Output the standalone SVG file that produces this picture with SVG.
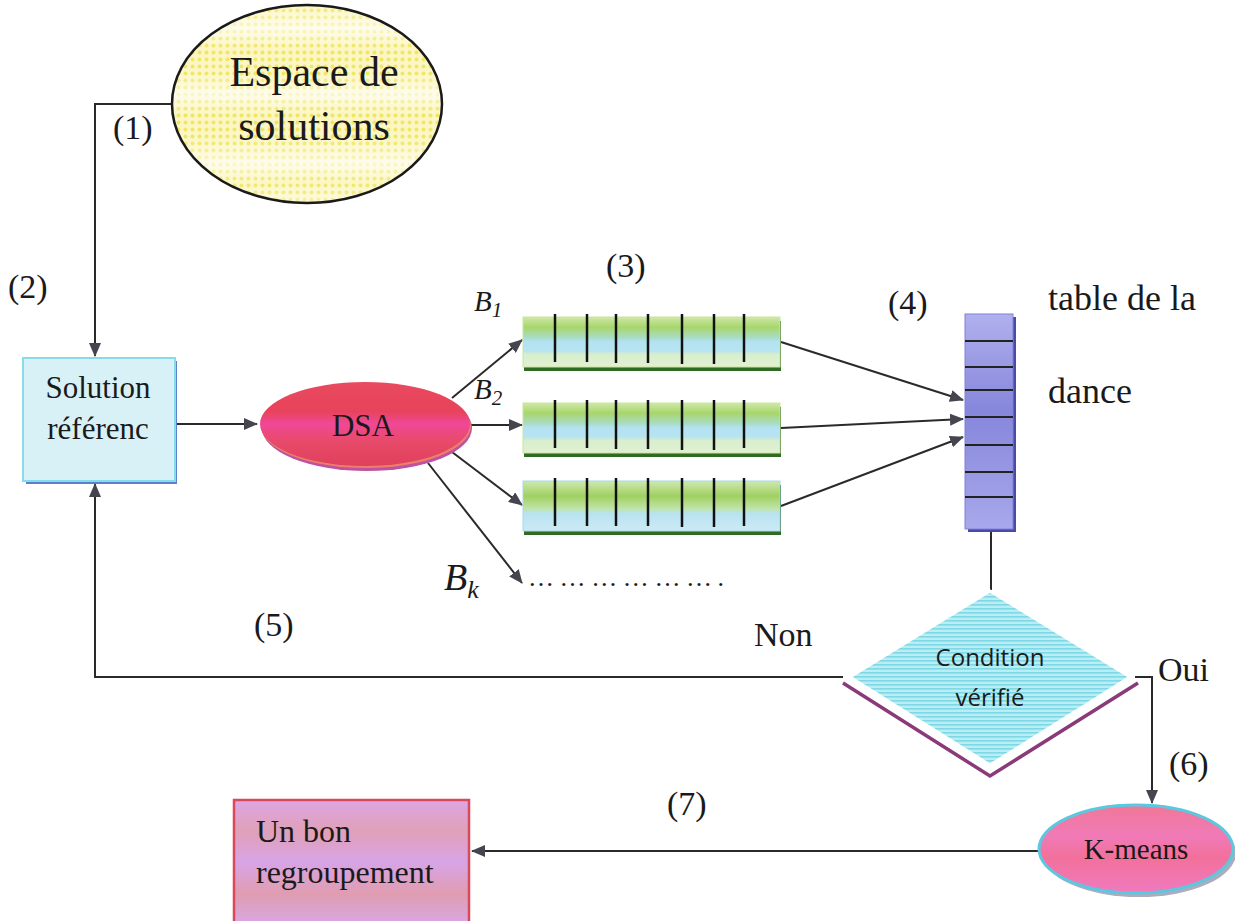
<svg xmlns="http://www.w3.org/2000/svg" width="1235" height="921" viewBox="0 0 1235 921" font-family="'Liberation Serif', 'Times New Roman', serif">
  <defs>
    <style>
      text { fill: #1a1a1a; }
      .wire { fill: none; stroke: #2a2a2a; stroke-width: 2; }
      .cell { stroke: #111; stroke-width: 2.5; }
      .row { stroke: #222; stroke-width: 2; }
    </style>
    <marker id="arr" viewBox="0 0 14 12" refX="13" refY="6" markerWidth="14" markerHeight="12" markerUnits="userSpaceOnUse" orient="auto">
      <path d="M0,0 L14,6 L0,12 Z" fill="#45454f"/>
    </marker>
    <!-- dotted yellow texture with pale bands -->
    <pattern id="dots" width="7" height="7" patternUnits="userSpaceOnUse">
      <rect width="7" height="7" fill="#fbf6c0"/>
      <circle cx="3.5" cy="3.5" r="2" fill="#f0e45a"/>
    </pattern>
    <linearGradient id="bands" x1="0" y1="0" x2="0" y2="1">
      <stop offset="0" stop-color="#fff" stop-opacity="0.1"/>
      <stop offset="0.12" stop-color="#fff" stop-opacity="0.7"/>
      <stop offset="0.22" stop-color="#fff" stop-opacity="0.05"/>
      <stop offset="0.35" stop-color="#fff" stop-opacity="0.1"/>
      <stop offset="0.45" stop-color="#fff" stop-opacity="0.7"/>
      <stop offset="0.55" stop-color="#fff" stop-opacity="0.05"/>
      <stop offset="0.68" stop-color="#fff" stop-opacity="0.1"/>
      <stop offset="0.8" stop-color="#fff" stop-opacity="0.7"/>
      <stop offset="0.9" stop-color="#fff" stop-opacity="0.1"/>
      <stop offset="1" stop-color="#fff" stop-opacity="0.5"/>
    </linearGradient>
    <linearGradient id="dsaFill" x1="0" y1="0" x2="0" y2="1">
      <stop offset="0" stop-color="#e84a60"/>
      <stop offset="0.35" stop-color="#e8435a"/>
      <stop offset="0.5" stop-color="#f04898"/>
      <stop offset="0.7" stop-color="#e84a6a"/>
      <stop offset="1" stop-color="#e0405a"/>
    </linearGradient>
    <linearGradient id="barFill" x1="0" y1="0" x2="0" y2="1">
      <stop offset="0" stop-color="#cfe8a8"/>
      <stop offset="0.2" stop-color="#a8d66a"/>
      <stop offset="0.4" stop-color="#a8dcc0"/>
      <stop offset="0.5" stop-color="#b4e2f4"/>
      <stop offset="0.68" stop-color="#b8e4f0"/>
      <stop offset="0.75" stop-color="#d8eecc"/>
      <stop offset="1" stop-color="#e2f0d4"/>
    </linearGradient>
    <linearGradient id="barFill3" x1="0" y1="0" x2="0" y2="1">
      <stop offset="0" stop-color="#cfe8b0"/>
      <stop offset="0.3" stop-color="#a0d060"/>
      <stop offset="0.55" stop-color="#c0e4a8"/>
      <stop offset="0.65" stop-color="#b8e2f2"/>
      <stop offset="1" stop-color="#cdeaf4"/>
    </linearGradient>
    <linearGradient id="tableFill" x1="0" y1="0" x2="0" y2="1">
      <stop offset="0" stop-color="#b0b0ee"/>
      <stop offset="0.45" stop-color="#8686dc"/>
      <stop offset="1" stop-color="#a8a8ec"/>
    </linearGradient>
    <linearGradient id="kFill" x1="0" y1="0" x2="0" y2="1">
      <stop offset="0" stop-color="#f07898"/>
      <stop offset="0.35" stop-color="#f07ab8"/>
      <stop offset="0.6" stop-color="#f2709a"/>
      <stop offset="1" stop-color="#f07ac0"/>
    </linearGradient>
    <linearGradient id="resFill" x1="0" y1="0" x2="0" y2="1">
      <stop offset="0" stop-color="#dda6e4"/>
      <stop offset="0.25" stop-color="#e0a0b8"/>
      <stop offset="0.5" stop-color="#d8a4e6"/>
      <stop offset="0.75" stop-color="#e09cb0"/>
      <stop offset="1" stop-color="#d8a8e6"/>
    </linearGradient>
    <pattern id="hatch" width="6" height="4" patternUnits="userSpaceOnUse">
      <rect width="6" height="4" fill="#b8eef4"/>
      <rect width="6" height="1.6" fill="#7ed8e6"/>
    </pattern>
  </defs>

  <rect width="1235" height="921" fill="#ffffff"/>

  <!-- connectors -->
  <g id="connectors">
    <polyline class="wire" points="172,104 95,104 95,356" marker-end="url(#arr)"/>
    <line class="wire" x1="175" y1="424" x2="257" y2="424" marker-end="url(#arr)"/>
    <line class="wire" x1="452" y1="398" x2="522" y2="340" marker-end="url(#arr)"/>
    <line class="wire" x1="470" y1="425" x2="522" y2="425" marker-end="url(#arr)"/>
    <line class="wire" x1="452" y1="452" x2="522" y2="505" marker-end="url(#arr)"/>
    <line class="wire" x1="428" y1="463" x2="522" y2="583" marker-end="url(#arr)"/>
    <line class="wire" x1="781" y1="342" x2="963" y2="400" marker-end="url(#arr)"/>
    <line class="wire" x1="781" y1="428" x2="963" y2="419" marker-end="url(#arr)"/>
    <line class="wire" x1="781" y1="506" x2="963" y2="437" marker-end="url(#arr)"/>
    <line class="wire" x1="991" y1="530" x2="991" y2="590"/>
    <polyline class="wire" points="843,677 95,677 95,484" marker-end="url(#arr)"/>
    <polyline class="wire" points="1135,677 1152,677 1152,803" marker-end="url(#arr)"/>
    <line class="wire" x1="1039" y1="851" x2="472" y2="851" marker-end="url(#arr)"/>
  </g>

  <!-- solution space -->
  <g id="espace">
    <ellipse cx="307" cy="104" rx="135" ry="99" fill="url(#dots)"/>
    <ellipse cx="307" cy="104" rx="135" ry="99" fill="url(#bands)" stroke="#1a1a1a" stroke-width="2.5"/>
    <text font-family="'Liberation Serif', serif" x="314" y="86" font-size="42" text-anchor="middle">Espace de</text>
    <text font-family="'Liberation Serif', serif" x="314" y="140" font-size="42" text-anchor="middle">solutions</text>
  </g>

  <!-- reference solution -->
  <g id="solution">
    <rect x="26" y="361" width="151" height="123" fill="#5d80cc"/>
    <rect x="23" y="358" width="152" height="123" fill="#d8f1f7" stroke="#86dcea" stroke-width="2"/>
    <text font-family="'Liberation Serif', serif" x="98" y="398" font-size="31" text-anchor="middle">Solution</text>
    <text font-family="'Liberation Serif', serif" x="98" y="439" font-size="31" text-anchor="middle">référenc</text>
  </g>

  <!-- DSA -->
  <g id="dsa">
    <ellipse cx="367" cy="428" rx="105" ry="43" fill="#c050a0"/>
    <ellipse cx="366" cy="426" rx="105" ry="42" fill="#e8806a"/>
    <ellipse cx="365" cy="424" rx="105" ry="42" fill="url(#dsaFill)"/>
    <text font-family="'Liberation Serif', serif" x="363" y="436" font-size="31" text-anchor="middle">DSA</text>
  </g>

  <!-- bee rows -->
  <g id="bees">
    <rect x="524" y="321" width="257" height="50" fill="#2f6b22"/>
    <rect x="523" y="317" width="257" height="50" fill="url(#barFill)" stroke="#c8e6a0" stroke-width="1"/>
    <g class="cell">
      <line x1="555" y1="314" x2="555" y2="362"/><line x1="587" y1="314" x2="587" y2="362"/>
      <line x1="616" y1="314" x2="616" y2="363"/><line x1="648" y1="314" x2="648" y2="363"/>
      <line x1="682" y1="314" x2="682" y2="364"/><line x1="714" y1="314" x2="714" y2="364"/>
      <line x1="744" y1="314" x2="744" y2="362"/>
    </g>

    <rect x="524" y="407" width="257" height="50" fill="#2f6b22"/>
    <rect x="523" y="403" width="257" height="50" fill="url(#barFill)" stroke="#c8e6a0" stroke-width="1"/>
    <g class="cell">
      <line x1="555" y1="400" x2="555" y2="448"/><line x1="587" y1="400" x2="587" y2="448"/>
      <line x1="616" y1="400" x2="616" y2="449"/><line x1="648" y1="400" x2="648" y2="449"/>
      <line x1="682" y1="400" x2="682" y2="450"/><line x1="714" y1="400" x2="714" y2="450"/>
      <line x1="744" y1="400" x2="744" y2="448"/>
    </g>

    <rect x="524" y="485" width="257" height="50" fill="#2f6b22"/>
    <rect x="523" y="481" width="257" height="50" fill="url(#barFill3)" stroke="#a8d8ec" stroke-width="1"/>
    <g class="cell">
      <line x1="555" y1="478" x2="555" y2="526"/><line x1="587" y1="478" x2="587" y2="526"/>
      <line x1="616" y1="478" x2="616" y2="526"/><line x1="648" y1="478" x2="648" y2="526"/>
      <line x1="682" y1="478" x2="682" y2="527"/><line x1="714" y1="478" x2="714" y2="527"/>
      <line x1="744" y1="478" x2="744" y2="526"/>
    </g>

    <text font-family="'Liberation Serif', serif" x="474" y="311" font-size="29" font-style="italic">B<tspan font-size="21" dy="6">1</tspan></text>
    <text font-family="'Liberation Serif', serif" x="474" y="399" font-size="29" font-style="italic">B<tspan font-size="21" dy="6">2</tspan></text>
    <text font-family="'Liberation Serif', serif" x="444" y="590" font-size="38" font-style="italic">B<tspan font-size="26" dy="8">k</tspan></text>
    <text font-family="'Liberation Serif', serif" x="528" y="586" font-size="26" letter-spacing="5.6">……………….</text>
  </g>

  <!-- dance table -->
  <g id="table">
    <rect x="968" y="317" width="48" height="215" fill="#4a4aaa"/>
    <rect x="965" y="314" width="48" height="215" fill="url(#tableFill)" stroke="#8080d8" stroke-width="1"/>
    <g class="row">
      <line x1="965" y1="341" x2="1013" y2="341"/><line x1="965" y1="367" x2="1013" y2="367"/>
      <line x1="965" y1="390" x2="1013" y2="390"/><line x1="965" y1="417" x2="1013" y2="417"/>
      <line x1="965" y1="445" x2="1013" y2="445"/><line x1="965" y1="472" x2="1013" y2="472"/>
      <line x1="965" y1="497" x2="1013" y2="497"/>
    </g>
    <text font-family="'Liberation Serif', serif" x="1048" y="310" font-size="36">table de la</text>
    <text font-family="'Liberation Serif', serif" x="1048" y="403" font-size="36">dance</text>
  </g>

  <!-- condition -->
  <g id="condition">
    <polyline points="843,683 990,776 1138,683" fill="none" stroke="#8a3a78" stroke-width="3.5"/>
    <polygon points="990,591 1130,677 990,765 850,677" fill="url(#hatch)" stroke="#ffffff" stroke-width="3"/>
    <text font-family="'Open Sans', 'Noto Sans', sans-serif" x="990" y="666" font-size="24" text-anchor="middle">Condition</text>
    <text font-family="'Open Sans', 'Noto Sans', sans-serif" x="990" y="706" font-size="24" text-anchor="middle">vérifié</text>
  </g>

  <!-- k-means -->
  <g id="kmeans">
    <ellipse cx="1139" cy="853" rx="97" ry="44" fill="#5a5a7a" opacity="0.5"/>
    <ellipse cx="1136" cy="849" rx="97" ry="44" fill="url(#kFill)" stroke="#5cc8e0" stroke-width="3"/>
    <text font-family="'Liberation Serif', serif" x="1136" y="859" font-size="29" text-anchor="middle">K-means</text>
  </g>

  <!-- result -->
  <g id="resultat">
    <rect x="234" y="800" width="235" height="125" fill="url(#resFill)" stroke="#d84a5a" stroke-width="2.5"/>
    <text font-family="'Liberation Serif', serif" x="256" y="842" font-size="32">Un bon</text>
    <text font-family="'Liberation Serif', serif" x="256" y="883" font-size="32">regroupement</text>
  </g>

  <!-- step labels -->
  <g id="labels" font-family="'Liberation Serif', serif" font-size="34">
    <text x="113" y="139">(1)</text>
    <text x="8" y="298">(2)</text>
    <text x="606" y="277">(3)</text>
    <text x="888" y="314">(4)</text>
    <text x="254" y="636">(5)</text>
    <text x="754" y="646">Non</text>
    <text x="1158" y="681">Oui</text>
    <text x="1169" y="775">(6)</text>
    <text x="667" y="815">(7)</text>
  </g>
</svg>
